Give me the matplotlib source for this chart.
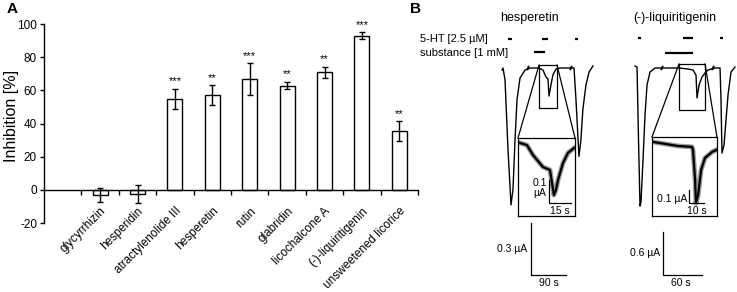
import numpy as np
import matplotlib
matplotlib.use("Agg")
import matplotlib.pyplot as plt
from matplotlib.patches import Rectangle

plt.rcParams['font.family'] = ['Liberation Sans', 'DejaVu Sans']
plt.rcParams['axes.unicode_minus'] = False

# ---- panel A data ----
compounds = ['glycyrrhizin', 'hesperidin', 'atractylenolide III', 'hesperetin', 'rutin',
             'glabridin', 'licochalcone A', '(-)-liquiritigenin', 'unsweetened licorice']
inhibition = [-3.2, -2.6, 54.8, 57.1, 66.7, 62.8, 70.8, 93.0, 35.5]
sem = [4.4, 5.3, 6.3, 6.0, 9.6, 2.2, 3.3, 2.0, 5.8]
stars = ['', '', '***', '**', '***', '**', '**', '***', '**']

# ---- panel B data (time in s, current in uA) ----
hes_t = [5.1, 7.7, 12.9, 20.6, 28.3, 33.4, 38.6, 43.7, 51.4, 64.3, 77.1, 100, 110.6, 118.3,
         123.4, 126, 131, 136, 144, 154, 180, 190.3, 195.4, 203, 208, 213, 221, 229, 239]
hes_i = [-0.012, 0, -0.069, -0.473, -0.79, -0.70, -0.415, -0.185, -0.058, -0.012, 0, 0, -0.012,
         -0.052, -0.063, -0.162, -0.098, -0.04, -0.006, 0, 0, 0, -0.185, -0.51, -0.415, -0.24,
         -0.098, -0.023, 0.012]
hes_in_t = [1.4, 6.1, 10.2, 17.0, 21.8, 24.5, 25.9, 27.3, 30.7, 34.1, 38.2]
hes_in_i = [0, -0.009, -0.052, -0.104, -0.117, -0.226, -0.204, -0.161, -0.087, -0.043, -0.022]

liq_t = [7.7, 10.8, 13.1, 15.4, 16.9, 20.0, 23.1, 26.2, 30.8, 38.5, 75.4, 89.2, 96.9, 101.5,
         103.1, 106.2, 110.8, 115.4, 120.0, 130.8, 138.5, 140.0, 141.5, 144.6, 147.7, 150.8,
         155.4, 161.5]
liq_i = [0.014, 0, -1.018, -1.94, -1.883, -1.297, -0.67, -0.251, -0.07, -0.014, -0.014, -0.028,
         -0.042, -0.112, -0.432, -0.251, -0.14, -0.084, -0.042, -0.014, -0.014, -0.46, -1.2,
         -1.088, -0.74, -0.39, -0.07, 0]
liq_in_t = [0.7, 8.7, 17.3, 26.7, 27.3, 28.7, 29.3, 30.7, 32.7, 35.3, 40, 42.7]
liq_in_i = [0, -0.015, -0.031, -0.038, -0.062, -0.29, -0.47, -0.41, -0.215, -0.123, -0.077, -0.062]

W, H = 737, 292
fig = plt.figure(figsize=(W / 100, H / 100), dpi=100)


def px_axes(x0, x1, y0, y1):
    return fig.add_axes([x0 / W, 1 - y1 / H, (x1 - x0) / W, (y1 - y0) / H])


# ================= panel A =================
ax = px_axes(44, 418, 24, 223)
x = np.arange(1, len(compounds) + 1)
ax.bar(x, inhibition, width=0.4, color='white', edgecolor='black', linewidth=1.0, zorder=2)
ax.errorbar(x, inhibition, yerr=sem, fmt='none', ecolor='black', elinewidth=1.0,
            capsize=2.5, capthick=1.0, zorder=3)
for xi, v, e, s in zip(x, inhibition, sem, stars):
    if s:
        ax.text(xi, v + e + 1.5, s, ha='center', va='bottom', fontsize=8)
ax.set_xlim(-0.5, 9.5)
ax.set_ylim(-20, 100)
ax.set_yticks(range(-20, 101, 20))
ax.spines['top'].set_visible(False)
ax.spines['right'].set_visible(False)
ax.spines['bottom'].set_position(('data', 0))
ax.set_xticks(x)
ax.set_xticklabels(compounds, rotation=45, ha='right', rotation_mode='anchor')
ax.set_xticks(np.arange(0.5, 10, 1), minor=True)
ax.tick_params(axis='x', which='major', length=0, pad=11, labelsize=8.5)
ax.tick_params(axis='x', which='minor', length=3.5, direction='out', width=1)
ax.tick_params(axis='y', length=3, width=1, labelsize=8.5, pad=2)
for sp in ('left', 'bottom'):
    ax.spines[sp].set_linewidth(1.0)
ax.set_ylabel('Inhibition [%]', fontsize=11.5)
ax.yaxis.set_label_coords(-0.068, 0.54)
fig.text(7 / W, 1 - 9 / H, 'A', fontsize=11, fontweight='bold', va='center')
fig.text(410 / W, 1 - 9 / H, 'B', fontsize=11, fontweight='bold', va='center')
fig.text(420 / W, 1 - 39 / H, '5-HT [2.5 µM]', fontsize=8, va='center')
fig.text(420 / W, 1 - 53 / H, 'substance [1 mM]', fontsize=8, va='center')


def breaks(a, t, y, dt, dy):
    for off in (-dt * 0.6, dt * 0.6):
        a.plot([t + off - dt, t + off + dt], [y - dy, y + dy], color='black', lw=0.8)


def trace_panel(ext, xlim, ylim, t, i, title, title_pos, ht_bars, ht_y, sub_bar, sub_y,
                brk, brk_y, box, inset_top, scale, scale_lbl):
    a = px_axes(*ext)
    a.set_xlim(*xlim)
    a.set_ylim(*ylim)
    a.set_axis_off()
    a.plot(t, i, color='black', lw=1.0)
    a.text(title_pos[0], title_pos[1], title, ha='center', va='center', fontsize=9)
    for b in ht_bars:
        a.plot(b, [ht_y, ht_y], color='black', lw=1.6, solid_capstyle='butt')
    a.plot(sub_bar, [sub_y, sub_y], color='black', lw=1.6, solid_capstyle='butt')
    dt = (xlim[1] - xlim[0]) * 0.006
    dy = (ylim[1] - ylim[0]) * 0.006
    for bt in brk:
        breaks(a, bt, brk_y, dt, dy)
    bx0, bx1, by0, by1 = box
    a.add_patch(Rectangle((bx0, by1), bx1 - bx0, by0 - by1, fill=False, lw=0.9, ec='black'))
    it0, it1, iy = inset_top
    a.plot([bx0, it0], [by0, iy], color='black', lw=0.9)
    a.plot([bx1, it1], [by0, iy], color='black', lw=0.9)
    st, sy0, sy1, sdt = scale
    a.plot([st, st, st + sdt], [sy0, sy1, sy1], color='black', lw=0.9)
    (lx, ly, ltxt), (tx, ty, ttxt) = scale_lbl
    a.text(lx, ly, ltxt, ha='right', va='center', fontsize=7.5)
    a.text(tx, ty, ttxt, ha='center', va='center', fontsize=7.5)
    return a


def inset_panel(ext, xlim, ylim, t, i, scale, ylbl, xlbl):
    a = px_axes(*ext)
    a.set_xlim(*xlim)
    a.set_ylim(*ylim)
    a.set_xticks([])
    a.set_yticks([])
    a.patch.set_alpha(0)
    for sp in a.spines.values():
        sp.set_linewidth(0.9)
    a.plot(t, i, color='#999999', lw=3.5, solid_joinstyle='round')
    a.plot(t, i, color='black', lw=1.6)
    st, sy0, sy1, sdt = scale
    a.plot([st, st, st + sdt], [sy0, sy1, sy1], color='black', lw=0.9)
    a.text(ylbl[0], ylbl[1], ylbl[2], ha='right', va='center', fontsize=7.5,
           multialignment='center', linespacing=1.0)
    a.text(xlbl[0], xlbl[1], xlbl[2], ha='center', va='center', fontsize=7.5)
    return a


# hesperetin
trace_panel((495, 600, 10, 290), (-12.86, 257.1), (-1.281, 0.3347), hes_t, hes_i,
            'hesperetin', (77.1, 0.289),
            [(20.6, 30.9), (108, 123.4), (192.9, 200.6)], 0.167, (87.4, 115.7), 0.092,
            [72, 182.5], 0.0, (100.3, 146.6, 0.017, -0.231), (46.3, 192.8, -0.404),
            (79.7, -0.894, -1.194, 90), ((69.4, -1.044, '0.3 µA'), (126, -1.241, '90 s')))
inset_panel((518, 575, 138, 216), (0, 38.9), (-0.317, 0.0217), hes_in_t, hes_in_i,
            (21.1, -0.161, -0.261, 15), (19.8, -0.196, '0.1\nµA'), (28.6, -0.296, '15 s'))

# (-)-liquiritigenin
trace_panel((625, 737, 10, 290), (-7.69, 164.6), (-3.111, 0.795), liq_t, liq_i,
            '(-)-liquiritigenin', (69.2, 0.684),
            [(12.3, 16.9), (81.5, 96.9), (138.5, 143)], 0.405, (53.8, 96.9), 0.195,
            [49.2, 127.7], -0.014, (75.4, 115.4, 0.042, -0.6), (33.8, 133.8, -0.977),
            (50.8, -2.302, -2.902, 60), ((46.2, -2.595, '0.6 µA'), (78.5, -3.013, '60 s')))
inset_panel((652, 717, 137, 216), (0, 43.3), (-0.569, 0.038), liq_in_t, liq_in_i,
            (24.7, -0.369, -0.469, 10), (23.3, -0.438, '0.1 µA'), (30, -0.531, '10 s'))

fig.savefig('out.png', dpi=100)
